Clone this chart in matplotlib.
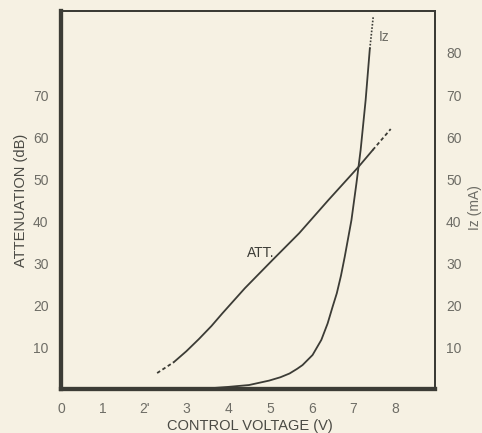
import matplotlib.pyplot as plt

# Attenuation (dB) vs control voltage (V)
att_v = [2.7, 3.0, 3.3, 3.6, 3.86, 4.4, 5.06, 5.7, 6.4, 7.12, 7.46]
att_db = [6.4, 9.0, 11.9, 15.0, 18.0, 24.0, 30.7, 37.1, 45.0, 52.9, 56.9]
att_lo_v = [2.3, 2.7]
att_lo_db = [3.8, 6.4]
att_hi_v = [7.46, 7.89]
att_hi_db = [56.9, 61.9]

# Zener current Iz (mA) vs control voltage (V)
iz_v = [3.6, 4.0, 4.5, 4.98, 5.25, 5.47, 5.65, 5.78, 6.02, 6.23, 6.38, 6.5,
        6.6, 6.7, 6.79, 6.95, 7.07, 7.17, 7.29, 7.39]
iz_ma = [0.2, 0.5, 0.95, 2.0, 2.8, 3.7, 4.8, 5.7, 8.1, 11.7, 15.6, 19.6,
         22.8, 27.0, 31.5, 40.2, 49.0, 56.9, 68.8, 81.0]
iz_hi_v = [7.39, 7.47]
iz_hi_ma = [81.0, 88.5]

x_ticks = [0, 1, 2, 3, 4, 5, 6, 7, 8]
x_labels = ['0', '1', "2'", '3', '4', '5', '6', '7', '8']
att_ticks = [10, 20, 30, 40, 50, 60, 70]
iz_ticks = [10, 20, 30, 40, 50, 60, 70, 80]

bg = '#f6f1e3'
ink = '#3c3c36'
tick_c = '#6e6d66'

plt.rcParams['font.family'] = ['Liberation Sans', 'DejaVu Sans']

fig = plt.figure(figsize=(4.82, 4.33), dpi=100, facecolor=bg)
ax = fig.add_axes([0.1266, 0.1016, 0.7759, 0.873], facecolor=bg)

ax.plot(att_v, att_db, color=ink, lw=1.3)
ax.plot(att_lo_v, att_lo_db, color=ink, lw=1.3, ls=(0, (2, 1.5)))
ax.plot(att_hi_v, att_hi_db, color=ink, lw=1.3, ls=(0, (2, 1.5)))

ax.set_xlim(0, 8.95)
ax.set_ylim(0, 90)
ax.set_xticks(x_ticks)
ax.set_xticklabels(x_labels)
ax.set_yticks(att_ticks)
ax.tick_params(length=0, colors=tick_c, labelsize=10, pad=9)
ax.set_xlabel('CONTROL VOLTAGE (V)', color='#4a4a44', fontsize=10.5)
ax.xaxis.set_label_coords(0.505, -0.08)
ax.set_ylabel('ATTENUATION (dB)', color='#4a4a44', fontsize=10.5)
ax.yaxis.set_label_coords(-0.088, 0.5)

ax.text(5.1, 31.5, 'ATT.', color=ink, fontsize=10, ha='right', va='baseline')

ax2 = ax.twinx()
ax2.plot(iz_v, iz_ma, color=ink, lw=1.3)
ax2.plot(iz_hi_v, iz_hi_ma, color=ink, lw=1.2, ls=(0, (1, 1)))
ax2.set_ylim(0, 90)
ax2.set_yticks(iz_ticks)
ax2.tick_params(length=0, colors=tick_c, labelsize=10, pad=8)
ax2.set_ylabel('Iz (mA)', color=tick_c, fontsize=10)
ax2.yaxis.set_label_coords(1.087, 0.479)
ax2.text(7.74, 83.8, 'Iz', color=tick_c, fontsize=10, ha='center', va='center')

for a in (ax, ax2):
    a.spines['left'].set_linewidth(3)
    a.spines['bottom'].set_linewidth(3)
    a.spines['top'].set_linewidth(1.4)
    a.spines['right'].set_linewidth(1.4)
    for s in a.spines.values():
        s.set_color(ink)

fig.savefig('out.png', dpi=100, facecolor=bg)
